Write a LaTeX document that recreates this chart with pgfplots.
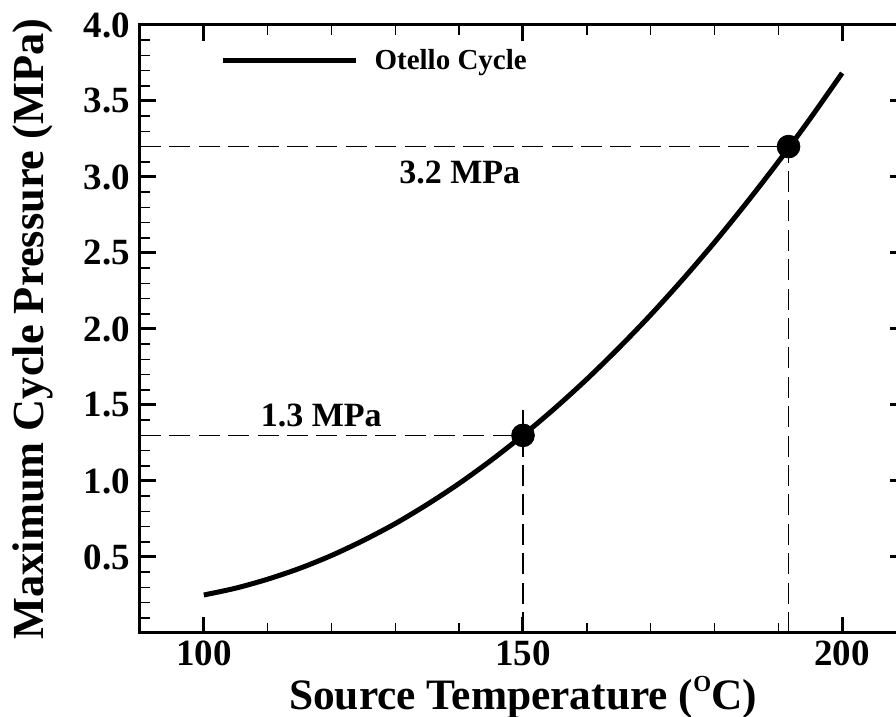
\documentclass[border=0pt]{standalone}
\usepackage{fontspec}
\setmainfont{Liberation Serif}
\usepackage{pgfplots}
\pgfplotsset{compat=1.18}

% maximum cycle pressure vs. source temperature
\pgfplotsset{
  pressure/.style={line width=2.5pt, black},
  guide/.style={line width=0.7pt, black, dash pattern=on 10.5pt off 4.2pt},
}

\begin{document}
\begin{tikzpicture}
\begin{axis}[
  scale only axis,
  width=383pt, height=304pt,
  xmin=90, xmax=210, ymin=0, ymax=4,
  xtick={100,150,200},
  minor xtick={110,120,130,140,160,170,180,190},
  ytick={0,0.5,1,1.5,2,2.5,3,3.5,4},
  yticklabels={,0.5,1.0,1.5,2.0,2.5,3.0,3.5,4.0},
  minor ytick={0.1,0.2,0.3,0.4,0.6,0.7,0.8,0.9,1.1,1.2,1.3,1.4,1.6,1.7,1.8,1.9,
               2.1,2.2,2.3,2.4,2.6,2.7,2.8,2.9,3.1,3.2,3.3,3.4,3.6,3.7,3.8,3.9},
  tick align=inside,
  major tick length=8pt, minor tick length=5pt,
  every major tick/.append style={line width=1.5pt, black},
  every minor tick/.append style={line width=0.8pt, black},
  axis line style={line width=1.5pt},
  /pgf/number format/assume math mode=true,
  tick label style={font=\fontsize{18.5}{18.5}\selectfont\bfseries},
  yticklabel style={xshift=-1.5pt},
  xticklabel style={yshift=-0.5pt},
  xlabel={Source Temperature (\raisebox{9pt}{\fontsize{11.5}{11.5}\selectfont O}C)},
  xlabel style={font=\fontsize{21.7}{21.7}\selectfont\bfseries,
    at={(axis description cs:0.5,0)}, anchor=base, yshift=-38.5pt},
  ylabel={Maximum Cycle Pressure (MPa)},
  ylabel style={font=\fontsize{22.2}{22.2}\selectfont\bfseries,
    at={(axis description cs:0,0.5)}, anchor=center, yshift=53.5pt},
  legend style={at={(axis cs:102.5,3.765)}, anchor=west, draw=none, fill=none,
    inner sep=0pt, font=\fontsize{14.5}{14.5}\selectfont\bfseries},
  legend image code/.code={
    \draw[#1] (0pt,0pt) -- (66.5pt,0pt);
    \path (72.7pt,0pt);
  },
]
\addplot[pressure, smooth] coordinates {
  (100,0.250) (105,0.295) (110,0.354) (115,0.425) (120,0.510)
  (125,0.609) (130,0.720) (135,0.846) (140,0.984) (145,1.136)
  (150,1.301) (155,1.479) (160,1.670) (165,1.875) (170,2.093)
  (175,2.325) (180,2.570) (185,2.829) (190,3.100) (195,3.385)
  (200,3.684)
};
\addlegendentry{Otello Cycle}

% reference lines for the two marked operating points
\addplot[guide, forget plot] coordinates {(90,1.3) (150,1.3)};
\addplot[guide, forget plot] coordinates {(150,0) (150,1.47)};
\addplot[guide, forget plot] coordinates {(90,3.2) (191.6,3.2)};
\addplot[guide, forget plot] coordinates {(191.6,0) (191.6,3.2)};

\addplot[only marks, mark=*, mark size=5.7pt, black, forget plot]
  coordinates {(150,1.3) (191.6,3.2)};

\node[anchor=base, font=\fontsize{17}{17}\selectfont\bfseries]
  at (axis cs:118.4,1.357) {1.3 MPa};
\node[anchor=base, font=\fontsize{17}{17}\selectfont\bfseries]
  at (axis cs:140.1,2.96) {3.2 MPa};
\end{axis}
\pgfresetboundingbox
\path[use as bounding box] ([shift={(-70pt,-42pt)}]current axis.south west)
  rectangle ++(448pt,358.5pt);
\end{tikzpicture}
\end{document}
